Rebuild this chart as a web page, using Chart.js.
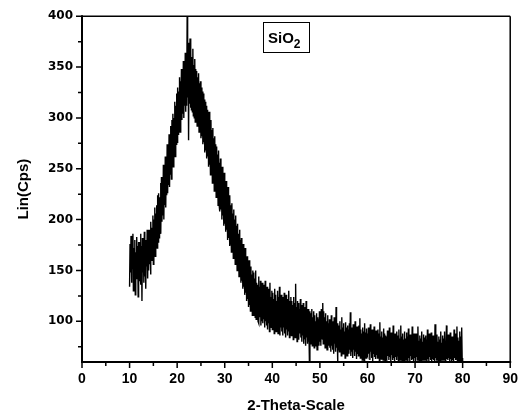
<!DOCTYPE html>
<html>
<head>
<meta charset="utf-8">
<script src="https://cdn.jsdelivr.net/npm/chart.js@4/dist/chart.umd.min.js"></script>
<style>
  html, body { margin: 0; padding: 0; background: #fff; }
  #wrap { position: relative; width: 527px; height: 415px; }
</style>
</head>
<body>
<div id="wrap"><canvas id="xrd" width="527" height="415"></canvas></div>
<script>
// ---- Data (10..80 deg, step 0.1) ----
const thetaStart = 10;
const thetaStep  = 0.1;
const counts = [
  134,176,148,184,138,170,152,186,130,172, 146,180,126,168,142,183,150,174,124,178,   // 10
  140,178,152,186,136,174,120,182,148,170, 138,188,144,180,132,176,154,190,142,184,   // 12
  150,190,156,184,146,198,160,192,166,204, 156,200,172,212,164,206,178,214,172,224,   // 14
  178,226,182,222,192,236,186,242,198,238, 204,254,200,248,214,262,212,258,224,274,   // 16
  226,270,234,284,232,280,244,292,240,298, 256,304,252,300,264,316,262,312,274,324,   // 18
  276,330,284,326,288,340,286,336,296,348, 298,344,304,356,300,352,312,364,306,360,   // 20
  312,400,320,374,278,362,314,378,310,364, 308,360,306,368,302,352,300,358,296,348,   // 22
  300,346,292,340,296,344,286,334,290,336, 280,330,282,326,274,324,276,318,266,316,   // 24
  268,312,260,308,262,304,252,306,254,296, 244,298,246,288,236,290,238,280,228,282,   // 26
  230,274,222,272,224,264,214,268,216,256, 208,260,210,250,200,252,204,242,194,246,   // 28
  196,236,188,238,190,228,180,232,182,220, 174,224,176,214,168,216,170,206,162,210,   // 30
  164,200,156,204,158,194,150,196,152,186, 144,190,146,180,138,182,140,172,132,176,   // 32
  134,168,126,172,128,162,120,164,122,156, 114,160,116,150,110,154,112,146,106,150,   // 34
  106,148,110,142,104,150,102,138,108,136, 100,144, 98,134,104,140, 96,132,100,138,   // 36
   98,136,102,130, 94,140,100,128, 96,134,  92,126, 98,132, 90,138, 96,124, 94,130,   // 38
   92,128, 96,122, 88,132, 94,126, 90,120,  96,130, 88,124, 92,134, 86,122, 94,126,   // 40
   90,124, 86,120, 94,128, 88,118, 84,126,  92,122, 86,116, 90,130, 84,120, 88,124,   // 42
   86,120, 90,116, 82,124, 88,118, 84,137,  90,114, 80,120, 86,118, 82,112, 88,122,   // 44
   84,116, 80,112, 86,118, 78,110, 82,114,  76,120, 84,108, 78,112, 80,106, 60,110,   // 46
   78,108, 82,112, 76,104, 80,110, 74,106,  82,100, 76,108, 72,104, 80,102, 76,110,   // 48
   80,106, 76,112, 82,108,118, 78,110, 84, 104, 74,108, 80,100, 72,106, 78, 98, 76,   // 50
  102, 74, 98, 70,106, 76, 96, 72,100, 68, 104, 78, 94, 70,114, 74, 96, 60, 98, 72,   // 52
   96, 70,100, 74, 92, 66,104, 72, 94, 68,  98, 76, 90, 64, 99, 70, 94, 66, 96, 72,   // 54
   92, 68, 98, 72,109, 66, 94, 70, 90, 64,  97, 72, 92, 66,100, 70, 88, 63, 95, 68,   // 56
   90, 66, 96, 70,103, 64, 92, 68, 88, 62,  94, 70, 90, 61, 98, 67, 89, 64, 93, 68,   // 58
   88, 66, 94, 68, 90, 62, 97, 70, 86, 64,  92, 61, 89, 68, 95, 65, 87, 63, 91, 67,   // 60
   86, 64, 92, 68, 88, 61, 99, 66, 85, 63,  90, 67, 84, 62, 93, 65, 88, 61, 86, 66,   // 62
   85, 63, 91, 66, 87, 62, 94, 65, 84, 61,  89, 67, 86, 62, 96, 64, 83, 61, 88, 65,   // 64
   84, 62, 90, 66, 86, 61, 92, 64, 83, 62,  96, 65, 85, 61, 88, 63, 82, 60, 90, 64,   // 66
   83, 62, 89, 65, 85, 60, 93, 64, 82, 61,  87, 66, 84, 62, 95, 63, 81, 61, 88, 64,   // 68
   82, 61, 88, 65, 84, 62, 95, 63, 81, 60,  86, 64, 83, 61, 90, 63, 80, 62, 87, 63,   // 70
   84, 62, 86, 64, 82, 60, 92, 63, 80, 61,  88, 65, 83, 62, 89, 61, 81, 63, 86, 62,   // 72
   81, 61, 97, 64, 83, 62, 87, 63, 80, 60,  85, 64, 82, 61, 90, 63, 79, 62, 86, 63,   // 74
   83, 62, 90, 64, 81, 61, 96, 63, 80, 62,  87, 64, 82, 60, 89, 63, 80, 61, 85, 62,   // 76
   82, 61, 92, 64, 80, 62, 88, 63, 95, 61,  84, 63, 81, 60, 90, 62, 85, 61, 94, 64,   // 78
   62                                                                                  // 80
];

const xTicks = [0, 10, 20, 30, 40, 50, 60, 70, 80, 90];
const yTicks = [100, 150, 200, 250, 300, 350, 400];
const xMinor = [5, 15, 25, 35, 45, 55, 65, 75, 85];
const yMinor = [75, 125, 175, 225, 275, 325, 375];

const points = counts.map((c, i) => ({ x: thetaStart + i * thetaStep, y: c }));

const FONT = "'Liberation Sans', Arial, sans-serif";
const Y_TICK_FONT = "'DejaVu Sans', sans-serif";

// ---- Frame, tick marks and the SiO2 label ----
const framePlugin = {
  id: "frame",
  afterDraw(chart) {
    const { ctx, chartArea: a, scales } = chart;
    const xs = scales.x, ys = scales.y;
    ctx.save();
    ctx.strokeStyle = "#000";

    // frame
    ctx.lineWidth = 1.5;
    ctx.beginPath();
    ctx.moveTo(a.left, a.top); ctx.lineTo(a.right, a.top);
    ctx.moveTo(a.right, a.top); ctx.lineTo(a.right, a.bottom);
    ctx.stroke();
    ctx.lineWidth = 2;
    ctx.beginPath();
    ctx.moveTo(a.left, a.top - 1); ctx.lineTo(a.left, a.bottom + 1);
    ctx.moveTo(a.left - 1, a.bottom); ctx.lineTo(a.right + 1, a.bottom);
    ctx.stroke();

    // ticks, outward
    ctx.lineWidth = 1.5;
    ctx.beginPath();
    xTicks.forEach(v => { const p = xs.getPixelForValue(v); ctx.moveTo(p, a.bottom); ctx.lineTo(p, a.bottom + 6); });
    xMinor.forEach(v => { const p = xs.getPixelForValue(v); ctx.moveTo(p, a.bottom); ctx.lineTo(p, a.bottom + 4); });
    yTicks.forEach(v => { const p = ys.getPixelForValue(v); ctx.moveTo(a.left, p); ctx.lineTo(a.left - 6, p); });
    yMinor.forEach(v => { const p = ys.getPixelForValue(v); ctx.moveTo(a.left, p); ctx.lineTo(a.left - 4, p); });
    ctx.stroke();

    // label box
    ctx.lineWidth = 1;
    ctx.strokeRect(263.5, 22.5, 46, 30);
    ctx.fillStyle = "#000";
    ctx.textBaseline = "alphabetic";
    ctx.font = "bold 15px " + FONT;
    ctx.fillText("SiO", 268, 43);
    const w = ctx.measureText("SiO").width;
    ctx.font = "bold 12px " + FONT;
    ctx.fillText("2", 268 + w, 48);
    ctx.restore();
  }
};

new Chart(document.getElementById("xrd"), {
  type: "line",
  data: {
    datasets: [{
      data: points,
      borderColor: "#000",
      borderWidth: 1.4,
      pointRadius: 0,
      tension: 0,
      fill: false
    }]
  },
  options: {
    responsive: false,
    animation: false,
    devicePixelRatio: 1,
    layout: { padding: { left: 7, right: 13, top: 15, bottom: 0 } },
    plugins: { legend: { display: false }, tooltip: { enabled: false } },
    scales: {
      x: {
        type: "linear",
        min: 0, max: 90,
        afterBuildTicks: s => { s.ticks = xTicks.map(v => ({ value: v })); },
        afterFit: s => { s.height = 53; },
        grid: { display: false, drawTicks: false },
        border: { display: false },
        ticks: { color: "#000", padding: 9, maxRotation: 0, font: { family: FONT, size: 14, weight: "bold" } },
        title: { display: true, text: "2-Theta-Scale", color: "#000", padding: { top: 4, bottom: 0 },
                 font: { family: FONT, size: 15, weight: "bold" } }
      },
      y: {
        type: "linear",
        min: 60, max: 400,
        afterBuildTicks: s => { s.ticks = yTicks.map(v => ({ value: v })); },
        afterFit: s => { s.width = 75; },
        grid: { display: false, drawTicks: false },
        border: { display: false },
        ticks: { color: "#000", padding: 9, font: { family: Y_TICK_FONT, size: 12, weight: "bold" } },
        title: { display: true, text: "Lin(Cps)", color: "#000", padding: { top: 8, bottom: 0 },
                 font: { family: FONT, size: 15, weight: "bold" } }
      }
    }
  },
  plugins: [framePlugin]
});
</script>
</body>
</html>
